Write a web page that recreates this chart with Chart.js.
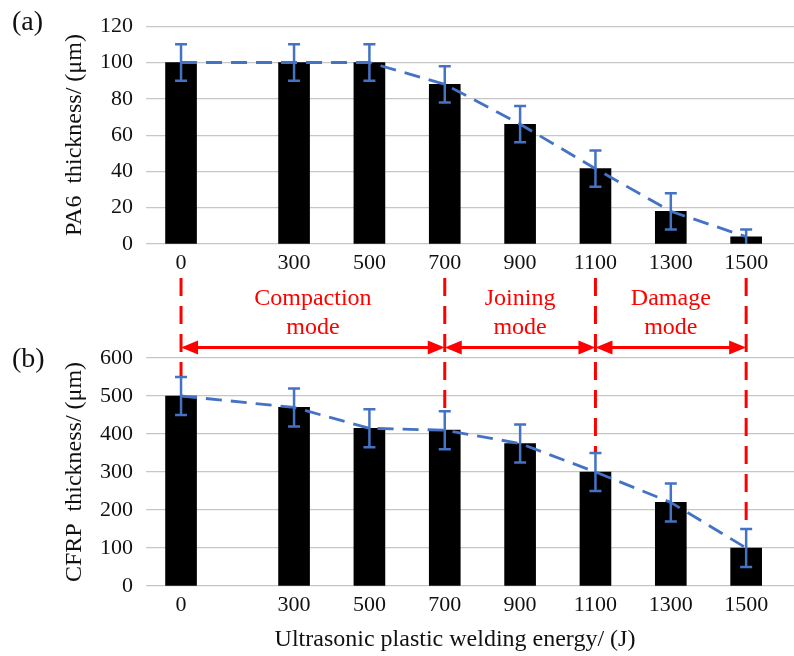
<!DOCTYPE html>
<html>
<head>
<meta charset="utf-8">
<script src="https://cdn.jsdelivr.net/npm/chart.js@4.4.1/dist/chart.umd.min.js"></script>
<style>
  body { margin: 0; background: #fff; }
  #wrap { position: relative; width: 794px; height: 656px; overflow: hidden; }
  #chartA { position: absolute; left: 0; top: 0; }
  #chartB { position: absolute; left: 0; top: 270px; }
</style>
</head>
<body>
<div id="wrap">
  <canvas id="chartA" width="794" height="285"></canvas>
  <canvas id="chartB" width="794" height="386"></canvas>
</div>
<script>
// Datos
const energies = [0, 300, 500, 700, 900, 1100, 1300, 1500];
const pa6Thickness = [100, 100, 100, 88, 66, 41.5, 18, 4];
const pa6Error = [10, 10, 10, 10, 10, 10, 10, 4];
const cfrpThickness = [500, 470, 415, 410, 375, 300, 220, 100];
const cfrpError = [50, 50, 50, 50, 50, 50, 50, 50];
const modeBounds = [0, 700, 1100, 1500];
const modeNames = [["Compaction", "mode"], ["Joining", "mode"], ["Damage", "mode"]];

const serif = "'Liberation Serif', 'Times New Roman', serif";
const blue = "#4472C4";
const red = "#ff0000";

Chart.defaults.font.family = serif;
Chart.defaults.color = "#111";

// Barras de error
function errorBars(values, errors) {
  return {
    id: "errorBars",
    afterDatasetsDraw(chart) {
      const { ctx, scales: { x, y } } = chart;
      ctx.save();
      ctx.strokeStyle = blue;
      ctx.lineWidth = 2.5;
      values.forEach((v, i) => {
        const px = x.getPixelForValue(energies[i]);
        const top = y.getPixelForValue(v + errors[i]);
        const bot = y.getPixelForValue(Math.max(0, v - errors[i]));
        ctx.beginPath();
        ctx.moveTo(px, top); ctx.lineTo(px, bot);
        ctx.moveTo(px - 6, top); ctx.lineTo(px + 6, top);
        if (v - errors[i] > 0) { ctx.moveTo(px - 6, bot); ctx.lineTo(px + 6, bot); }
        ctx.stroke();
      });
      ctx.restore();
    }
  };
}

// Etiqueta del panel
function panelLabel(text, yPos) {
  return {
    id: "panelLabel",
    afterDraw(chart) {
      const ctx = chart.ctx;
      ctx.save();
      ctx.font = "28px " + serif;
      ctx.fillStyle = "#111";
      ctx.textBaseline = "middle";
      ctx.fillText(text, 12, yPos);
      ctx.restore();
    }
  };
}

// Modos (flechas y lineas rojas)
const modes = {
  id: "modes",
  afterDraw(chart) {
    const { ctx, scales: { x, y } } = chart;
    ctx.save();
    ctx.strokeStyle = red;
    ctx.fillStyle = red;
    ctx.lineWidth = 3;
    // lineas verticales
    ctx.setLineDash([18, 10]);
    modeBounds.forEach(b => {
      const i = energies.indexOf(b);
      const px = x.getPixelForValue(b);
      ctx.beginPath();
      ctx.moveTo(px, 8);
      ctx.lineTo(px, y.getPixelForValue(cfrpThickness[i] + cfrpError[i]) - 1);
      ctx.stroke();
    });
    ctx.setLineDash([]);
    // flechas
    const ay = 77.5;
    for (let k = 0; k < modeBounds.length - 1; k++) {
      const x1 = x.getPixelForValue(modeBounds[k]);
      const x2 = x.getPixelForValue(modeBounds[k + 1]);
      ctx.beginPath();
      ctx.moveTo(x1 + 12, ay); ctx.lineTo(x2 - 12, ay);
      ctx.stroke();
      ctx.beginPath();
      ctx.moveTo(x1, ay); ctx.lineTo(x1 + 17, ay - 7); ctx.lineTo(x1 + 17, ay + 7); ctx.closePath();
      ctx.moveTo(x2, ay); ctx.lineTo(x2 - 17, ay - 7); ctx.lineTo(x2 - 17, ay + 7); ctx.closePath();
      ctx.fill();
      // texto
      ctx.font = "24px " + serif;
      ctx.textAlign = "center";
      ctx.textBaseline = "middle";
      const cx = (x1 + x2) / 2;
      ctx.fillText(modeNames[k][0], cx, 29);
      ctx.fillText(modeNames[k][1], cx, 58);
    }
    // titulo eje x
    ctx.fillStyle = "#111";
    ctx.font = "24px " + serif;
    ctx.textAlign = "center";
    ctx.fillText("Ultrasonic plastic welding energy/ (J)", 455, 370);
    ctx.restore();
  }
};

function crearChart(canvasId, values, yMax, yStep, yTitle, padTop, xHeight, plugins) {
  const data = {
    datasets: [
      {
        type: "line",
        data: energies.map((e, i) => ({ x: e, y: values[i] })),
        borderColor: blue,
        borderWidth: 2.8,
        borderDash: [16, 9],
        pointRadius: 0,
        fill: false,
        order: 0
      },
      {
        type: "bar",
        data: energies.map((e, i) => ({ x: e, y: values[i] })),
        backgroundColor: "#000",
        barThickness: 31,
        order: 1
      }
    ]
  };
  return new Chart(document.getElementById(canvasId), {
    data: data,
    options: {
      responsive: false,
      animation: false,
      layout: { padding: { top: padTop, right: 0, bottom: 0, left: 0 } },
      plugins: { legend: { display: false }, tooltip: { enabled: false } },
      scales: {
        x: {
          type: "linear",
          min: -93,
          max: 1627,
          offset: false,
          grid: { display: false },
          border: { display: false },
          afterBuildTicks: s => { s.ticks = energies.map(v => ({ value: v })); },
          afterFit: s => { s.height = xHeight; },
          ticks: { font: { size: 22 }, padding: -2, maxRotation: 0, autoSkip: false, callback: v => String(v) }
        },
        y: {
          min: 0,
          max: yMax,
          grid: { color: "#c6c6c6", lineWidth: 1.2, drawTicks: false },
          border: { display: false },
          afterFit: s => { s.width = 146; },
          ticks: { stepSize: yStep, font: { size: 22 }, padding: 13 },
          title: { display: true, text: yTitle, font: { size: 24 }, padding: { top: 60, bottom: 0 } }
        }
      }
    },
    plugins: plugins
  });
}

crearChart("chartA", pa6Thickness, 120, 20, "PA6  thickness/ (μm)", 15, 41,
  [errorBars(pa6Thickness, pa6Error), panelLabel("(a)", 23)]);
crearChart("chartB", cfrpThickness, 600, 100, "CFRP  thickness/ (μm)", 88, 70,
  [errorBars(cfrpThickness, cfrpError), panelLabel("(b)", 90), modes]);
</script>
</body>
</html>
